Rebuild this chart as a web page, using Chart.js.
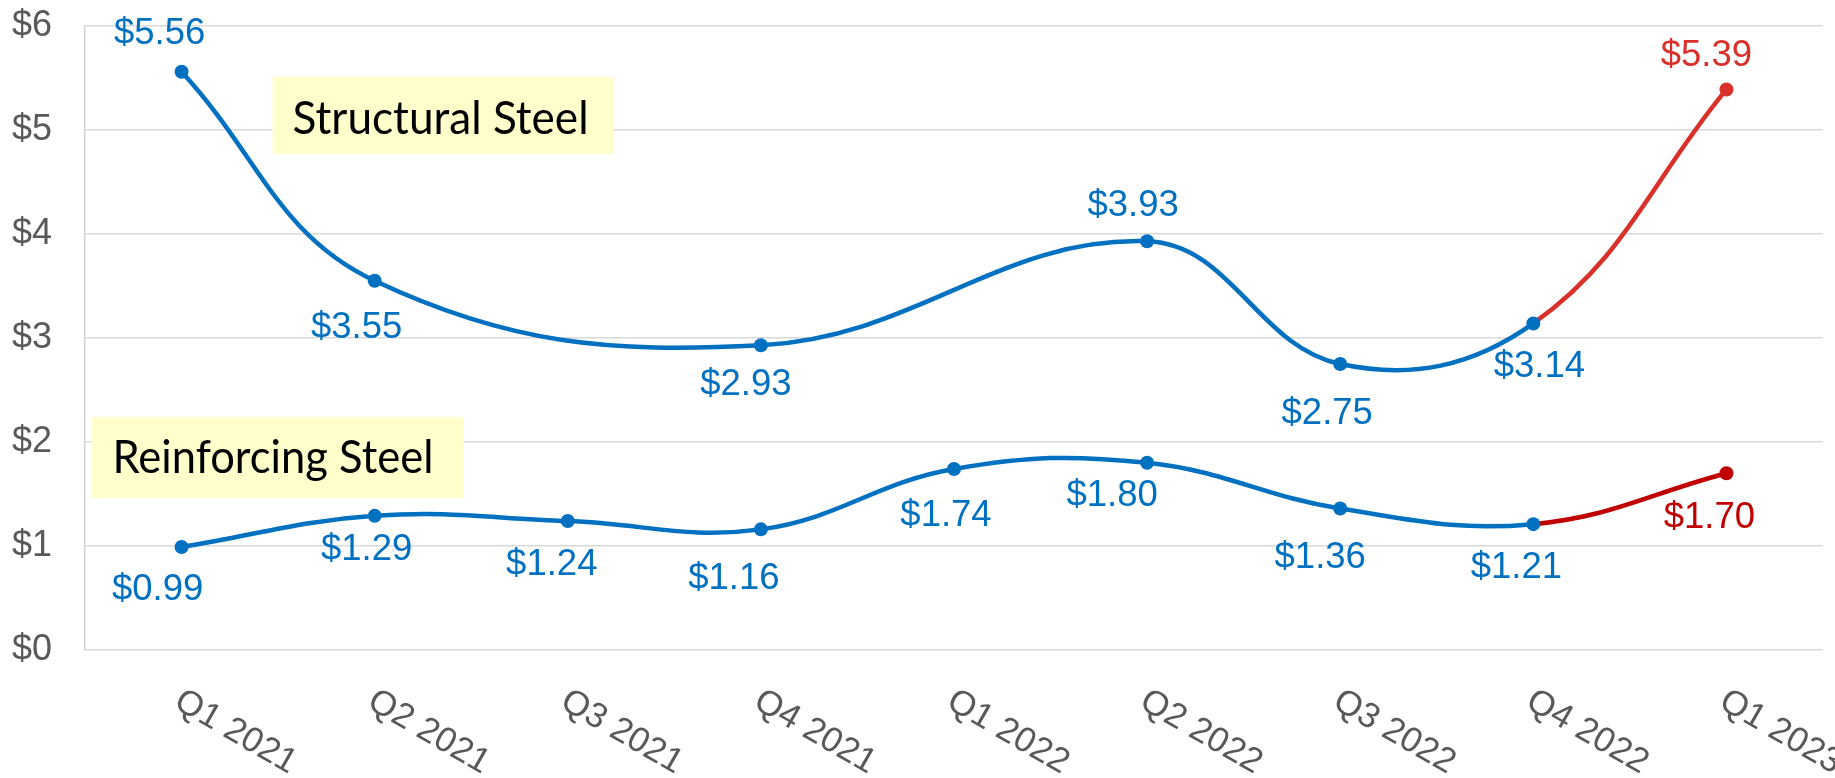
<!DOCTYPE html>
<html><head><meta charset="utf-8">
<script src="https://cdn.jsdelivr.net/npm/chart.js@4.4.0/dist/chart.umd.min.js"></script>
<style>html,body{margin:0;padding:0;background:#fff;overflow:hidden}#wrap{width:1835px;height:778px}</style>
</head><body><div id="wrap"><canvas id="c" width="1835" height="778"></canvas></div>
<script>
// ---- data ----
const categories = ['Q1 2021','Q2 2021','Q3 2021','Q4 2021','Q1 2022','Q2 2022','Q3 2022','Q4 2022','Q1 2023'];
const structuralSteel = [5.56, 3.55, null, 2.93, null, 3.93, 2.75, 3.14, 5.39];
const reinforcingSteel = [0.99, 1.29, 1.24, 1.16, 1.74, 1.80, 1.36, 1.21, 1.70];
const yTickValues = [0, 1, 2, 3, 4, 5, 6];
const seriesNames = ['Structural Steel', 'Reinforcing Steel'];

// ---- styling ----
const BLUE = '#0070C0';
const RED_STRUCT = '#D9302A';
const RED_REINF = '#C00000';
const GRAY = '#595959';
const LABEL_FONT = '36.5px "Liberation Sans", Arial, sans-serif';
const XLABEL_FONT = '35px "Liberation Sans", Arial, sans-serif';
// label centre offsets (px) from each point
const structuralLabelOffsets = [[-22,-41],[-18,44],null,[-15,37],null,[-14,-38],[-13,47],[6,41],[-20,-36]];
const reinforcingLabelOffsets = [[-24,40],[-8,31],[-16,41],[-27,47],[-8,44],[-35,30],[-20,46],[-17,41],[-17,42]];
// annotation boxes in data space: [x0, x1] category index, [yTop, yBottom] value, text anchor + target text width
const annotations = [
  {text: seriesNames[0], x0: 0.472, x1: 2.238, yTop: 5.51, yBot: 4.77, tx: 0.575, ty: 4.96, w: 296},
  {text: seriesNames[1], x0: -0.466, x1: 1.461, yTop: 2.24, yBot: 1.46, tx: -0.358, ty: 1.70, w: 321}
];

const last = categories.length - 1;

const boxPlugin = {
  id: 'boxes',
  beforeDatasetsDraw(chart) {
    const {ctx, scales: {x, y}} = chart;
    const step = x.getPixelForValue(1) - x.getPixelForValue(0);
    const px = v => x.getPixelForValue(0) + v * step;
    ctx.save();
    annotations.forEach(a => {
      const l = px(a.x0), r = px(a.x1), t = y.getPixelForValue(a.yTop), b = y.getPixelForValue(a.yBot);
      ctx.fillStyle = '#FFFFCC';
      ctx.fillRect(l, t, r - l, b - t);
      ctx.fillStyle = '#000';
      ctx.font = '47px Lato, "Open Sans", sans-serif';
      ctx.textAlign = 'left';
      ctx.textBaseline = 'alphabetic';
      const mw = ctx.measureText(a.text).width;
      ctx.save();
      ctx.translate(px(a.tx), y.getPixelForValue(a.ty));
      ctx.scale(a.w / mw, 1);
      ctx.fillText(a.text, 0, 0);
      ctx.restore();
    });
    ctx.restore();
  },
  afterDatasetsDraw(chart) {
    const {ctx} = chart;
    ctx.save();
    ctx.font = LABEL_FONT;
    ctx.textAlign = 'center';
    ctx.textBaseline = 'alphabetic';
    const sets = [[0, structuralLabelOffsets, RED_STRUCT], [1, reinforcingLabelOffsets, RED_REINF]];
    sets.forEach(([di, offs, red]) => {
      const meta = chart.getDatasetMeta(di);
      const data = chart.data.datasets[di].data;
      meta.data.forEach((pt, i) => {
        if (data[i] === null || !offs[i]) return;
        ctx.fillStyle = i === last ? red : BLUE;
        ctx.fillText('$' + data[i].toFixed(2), pt.x + offs[i][0], pt.y + offs[i][1] + 13);
      });
    });
    ctx.restore();
  },
  afterDraw(chart) {
    const {ctx, scales: {x}} = chart;
    ctx.save();
    ctx.font = XLABEL_FONT;
    ctx.fillStyle = GRAY;
    ctx.textAlign = 'left';
    ctx.textBaseline = 'alphabetic';
    categories.forEach((lab, i) => {
      const px = x.getPixelForValue(i);
      ctx.save();
      ctx.translate(px - 9, 707);
      ctx.rotate(Math.PI / 6);
      ctx.fillText(lab, 0, 0);
      ctx.restore();
    });
    ctx.restore();
  }
};

new Chart(document.getElementById('c'), {
  type: 'line',
  data: {
    labels: categories,
    datasets: [
      {
        label: seriesNames[0], data: structuralSteel, spanGaps: true,
        borderColor: BLUE, borderWidth: 4.5, tension: 0.4,
        pointRadius: 7, pointBorderWidth: 0,
        pointBackgroundColor: structuralSteel.map((v, i) => i === last ? RED_STRUCT : BLUE),
        segment: {borderColor: c => c.p1DataIndex === last ? RED_STRUCT : undefined}
      },
      {
        label: seriesNames[1], data: reinforcingSteel,
        borderColor: BLUE, borderWidth: 4.5, tension: 0.4,
        pointRadius: 7, pointBorderWidth: 0,
        pointBackgroundColor: reinforcingSteel.map((v, i) => i === last ? RED_REINF : BLUE),
        segment: {borderColor: c => c.p1DataIndex === last ? RED_REINF : undefined}
      }
    ]
  },
  options: {
    responsive: false, animation: false, devicePixelRatio: 1,
    layout: {padding: {left: 0, right: 12, top: 26, bottom: 128}},
    plugins: {legend: {display: false}, tooltip: {enabled: false}},
    scales: {
      x: {
        type: 'category', offset: true,
        grid: {display: false}, border: {display: false}, ticks: {display: false},
        afterFit(s) { s.height = 0; s.paddingLeft = 0; s.paddingRight = 0; }
      },
      y: {
        min: yTickValues[0], max: yTickValues[yTickValues.length - 1],
        afterBuildTicks(s) { s.ticks = yTickValues.map(v => ({value: v})); },
        ticks: {
          callback: v => '$' + v, color: GRAY, padding: 33,
          font: {family: '"Liberation Sans", Arial, sans-serif', size: 36}
        },
        grid: {color: '#D9D9D9', lineWidth: 1.5, drawTicks: false},
        border: {display: true, color: '#CFCFCF', width: 1.5},
        afterFit(s) { s.width = 85; s.paddingTop = 0; s.paddingBottom = 0; }
      }
    }
  },
  plugins: [boxPlugin]
});
</script></body></html>
